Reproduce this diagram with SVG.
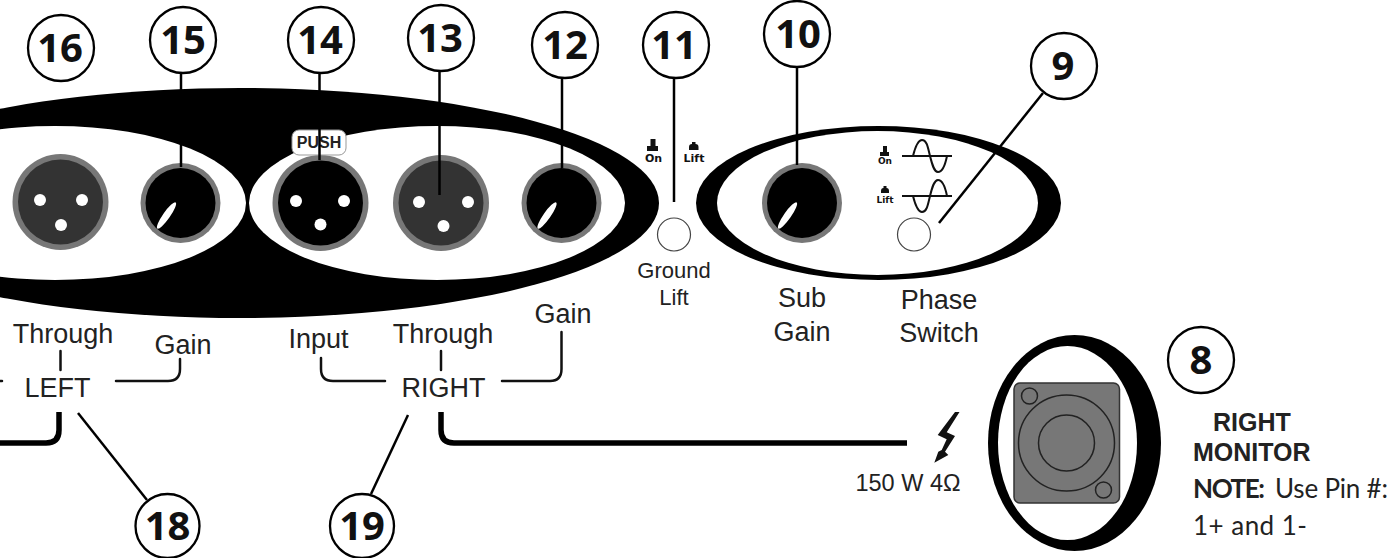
<svg xmlns="http://www.w3.org/2000/svg" width="1393" height="558" viewBox="0 0 1393 558">
<style>
.num{font-family:"Open Sans","Noto Sans",sans-serif;font-weight:700;font-size:40px;fill:#111;text-anchor:middle}
.lbl{font-family:"Liberation Sans",Arial,sans-serif;font-size:27px;fill:#222;text-anchor:middle}
.bold{font-family:"Liberation Sans",Arial,sans-serif;font-weight:700;fill:#222}
.tiny{font-family:"DejaVu Sans",sans-serif;font-weight:700;fill:#111;text-anchor:middle}
.note{font-family:"Lato","Noto Sans",sans-serif;font-size:26px;fill:#222}
.callout{fill:#fff;stroke:#000;stroke-width:2.3}
.lead{stroke:#000;stroke-width:2.5;fill:none}
.thin{stroke:#111;stroke-width:2.5;fill:none;stroke-linecap:round}
.thick{stroke:#000;stroke-width:5.5;fill:none}
.ring{fill:#777}
.pin{fill:#fff}
.sw{fill:#fff;stroke:#444;stroke-width:1.2}
.sine{fill:none;stroke:#111;stroke-width:2}
.hole{fill:none;stroke:#222;stroke-width:1.5}
</style>
<rect width="1393" height="558" fill="#fff"/>

<g id="panel-main">
<ellipse cx="240" cy="203" rx="419" ry="115" fill="#000"/>
<ellipse cx="55" cy="203" rx="191" ry="77" fill="#fff"/>
<ellipse cx="437" cy="203" rx="188" ry="77" fill="#fff"/>
</g>
<g id="panel-sub">
<ellipse cx="878.500" cy="203" rx="182.500" ry="77" fill="#000"/>
<ellipse cx="877.500" cy="203" rx="160.500" ry="72" fill="#fff"/>
</g>

<g id="xlr-input-left">
<circle class="ring" cx="60.500" cy="202" r="48"/><circle cx="60.500" cy="202" r="42.500" fill="#333"/>
<circle class="pin" cx="40" cy="200" r="6"/><circle class="pin" cx="82" cy="200" r="6"/><circle class="pin" cx="61" cy="225" r="6"/>
</g>
<g id="knob-15">
<circle class="ring" cx="180.500" cy="203" r="40"/><circle cx="180.500" cy="203" r="35" fill="#000"/>
<ellipse cx="166.500" cy="215.500" rx="16" ry="3.500" transform="rotate(-55 166.500 215.500)" fill="#fff"/>
</g>
<g id="xlr-14">
<circle class="ring" cx="320.500" cy="203" r="48"/><circle cx="320.500" cy="203" r="42.500" fill="#000"/>
<circle class="pin" cx="296" cy="201" r="6"/><circle class="pin" cx="344" cy="201" r="6"/><circle class="pin" cx="320.500" cy="224.500" r="6"/>
<rect x="292" y="130" width="54" height="25" rx="7" fill="#fff" stroke="#999" stroke-width="1"/>
<text class="bold" x="319" y="148" font-size="16" text-anchor="middle">PUSH</text>
</g>
<g id="xlr-13">
<circle class="ring" cx="441" cy="203" r="48"/><circle cx="441" cy="203" r="42.500" fill="#333"/>
<circle class="pin" cx="419" cy="202" r="6"/><circle class="pin" cx="468" cy="202" r="6"/><circle class="pin" cx="443.500" cy="226" r="6"/>
</g>
<g id="knob-12">
<circle class="ring" cx="561.500" cy="203" r="40"/><circle cx="561.500" cy="203" r="35" fill="#000"/>
<ellipse cx="547" cy="215.500" rx="16" ry="3.500" transform="rotate(-55 547 215.500)" fill="#fff"/>
</g>
<g id="knob-10">
<circle class="ring" cx="802" cy="203" r="40"/><circle cx="802" cy="203" r="35" fill="#000"/>
<ellipse cx="787.500" cy="215.500" rx="16" ry="3.500" transform="rotate(-55 787.500 215.500)" fill="#fff"/>
</g>

<g id="ground-lift">
<path d="M650.500 139h5v7h2.500v5h-11v-5h3.500z" fill="#111"/>
<text class="tiny" x="653.500" y="162" font-size="11">On</text>
<path d="M689 150v-3q0-3 3-3v-2h3.500v2q3 0 3 3v3z" fill="#111"/>
<text class="tiny" x="694" y="162" font-size="11">Lift</text>
<circle class="sw" cx="674" cy="234.500" r="16.500"/>
<text class="lbl" x="674" y="278" style="font-size:22px">Ground</text>
<text class="lbl" x="674" y="305" style="font-size:22px">Lift</text>
</g>
<g id="phase-switch">
<path d="M883 146h4v6h2v4h-9v-4h3z" fill="#111"/>
<text class="tiny" x="885" y="164" font-size="9">On</text>
<path d="M881 193v-2q0-3 2.500-3v-2h3v2q2.500 0 2.500 3v2z" fill="#111"/>
<text class="tiny" x="885" y="203" font-size="9">Lift</text>
<path class="sine" d="M902 156H952"/>
<path class="sine" d="M913 156C916 144 919 140 922 140C927 140 928 148 930 156C932 164 934 172 938 172C942 172 945 166 947 156"/>
<path class="sine" d="M902 196H952"/>
<path class="sine" d="M913 196C916 208 919 212 922 212C927 212 928 204 930 196C932 188 934 180 938 180C942 180 945 186 947 196"/>
<circle class="sw" cx="914" cy="234.500" r="16.500"/>
</g>

<g id="labels">
<text class="lbl" x="802" y="307">Sub</text>
<text class="lbl" x="802" y="341">Gain</text>
<text class="lbl" x="939" y="309">Phase</text>
<text class="lbl" x="939" y="342">Switch</text>
<text class="lbl" x="563" y="323">Gain</text>
<text class="lbl" x="63" y="343">Through</text>
<text class="lbl" x="183" y="354">Gain</text>
<text class="lbl" x="318.500" y="348">Input</text>
<text class="lbl" x="443" y="343">Through</text>
<text class="lbl" x="57.500" y="397">LEFT</text>
<text class="lbl" x="443.500" y="397">RIGHT</text>
</g>

<g id="connectors">
<path class="lead" d="M181 71V167"/>
<path class="lead" d="M319.500 71V160"/>
<path class="lead" d="M439.500 69V195"/>
<path class="lead" d="M562 76V168"/>
<path class="lead" d="M674 77V202"/>
<path class="lead" d="M797 66V165"/>
<path class="lead" d="M1043 93L939 223"/>
<path class="lead" d="M78 413L147 500"/>
<path class="lead" d="M408 415L371 494"/>
<path class="thin" d="M60.500 351V370"/>
<path class="thin" d="M116 381H168Q180 381 180 369V359"/>
<path class="thin" d="M0 381H2"/>
<path class="thin" d="M321 358V369Q321 381 333 381H385"/>
<path class="thin" d="M441 351V370"/>
<path class="thin" d="M502 381H550Q561.500 381 561.500 369V332"/>
<path class="thick" d="M59 412V430Q59 443 46 443H0"/>
<path class="thick" d="M441 412V430Q441 443 454 443H907"/>
</g>

<g id="output-right">
<polygon points="959.500,412 955,412 937.700,435 946.700,439.300 941.700,450 938.300,451.700 934.300,462.700 948.300,455 945,451.700 955,436 946.700,432.300" fill="#111"/>
<text class="lbl" x="908" y="491" style="font-size:23.500px">150 W 4Ω</text>
<ellipse cx="1074.500" cy="443" rx="86.500" ry="108" fill="#000"/>
<ellipse cx="1067.500" cy="443" rx="69.500" ry="97" fill="#fff"/>
<rect x="1014" y="383" width="105.500" height="120" rx="6" fill="#777" stroke="#333" stroke-width="1.500"/>
<circle class="hole" cx="1066.500" cy="443" r="48"/>
<circle class="hole" cx="1066.500" cy="443" r="28"/>
<circle class="hole" cx="1029.500" cy="396" r="8"/>
<circle class="hole" cx="1103.500" cy="490" r="8"/>
</g>

<g id="note">
<text class="bold" x="1213" y="431" font-size="25">RIGHT</text>
<text class="bold" x="1193" y="461" font-size="25">MONITOR</text>
<text class="note" x="1193" y="498" font-weight="700" textLength="72">NOTE:</text>
<text class="note" x="1275" y="498" textLength="113">Use Pin #:</text>
<text class="note" x="1193" y="535" textLength="114">1+ and 1-</text>
</g>

<g id="callout-16"><circle class="callout" cx="61" cy="48" r="33"/><text class="num" x="60" y="62">16</text></g>
<g id="callout-15"><circle class="callout" cx="183" cy="40" r="33"/><text class="num" x="183" y="54">15</text></g>
<g id="callout-14"><circle class="callout" cx="321" cy="40" r="33"/><text class="num" x="320" y="54">14</text></g>
<g id="callout-13"><circle class="callout" cx="441" cy="38" r="33"/><text class="num" x="440" y="52">13</text></g>
<g id="callout-12"><circle class="callout" cx="565" cy="45" r="33"/><text class="num" x="565" y="59">12</text></g>
<g id="callout-11"><circle class="callout" cx="676" cy="45" r="33"/><text class="num" x="674" y="59">11</text></g>
<g id="callout-10"><circle class="callout" cx="797" cy="34" r="33"/><text class="num" x="798" y="48">10</text></g>
<g id="callout-9"><circle class="callout" cx="1064" cy="66" r="33"/><text class="num" x="1063" y="80">9</text></g>
<g id="callout-8"><circle class="callout" cx="1201" cy="360" r="33"/><text class="num" x="1201" y="374">8</text></g>
<g id="callout-18"><circle class="callout" cx="167.500" cy="526" r="32"/><text class="num" x="167.500" y="540">18</text></g>
<g id="callout-19"><circle class="callout" cx="362" cy="526" r="32"/><text class="num" x="362" y="540">19</text></g>
</svg>
